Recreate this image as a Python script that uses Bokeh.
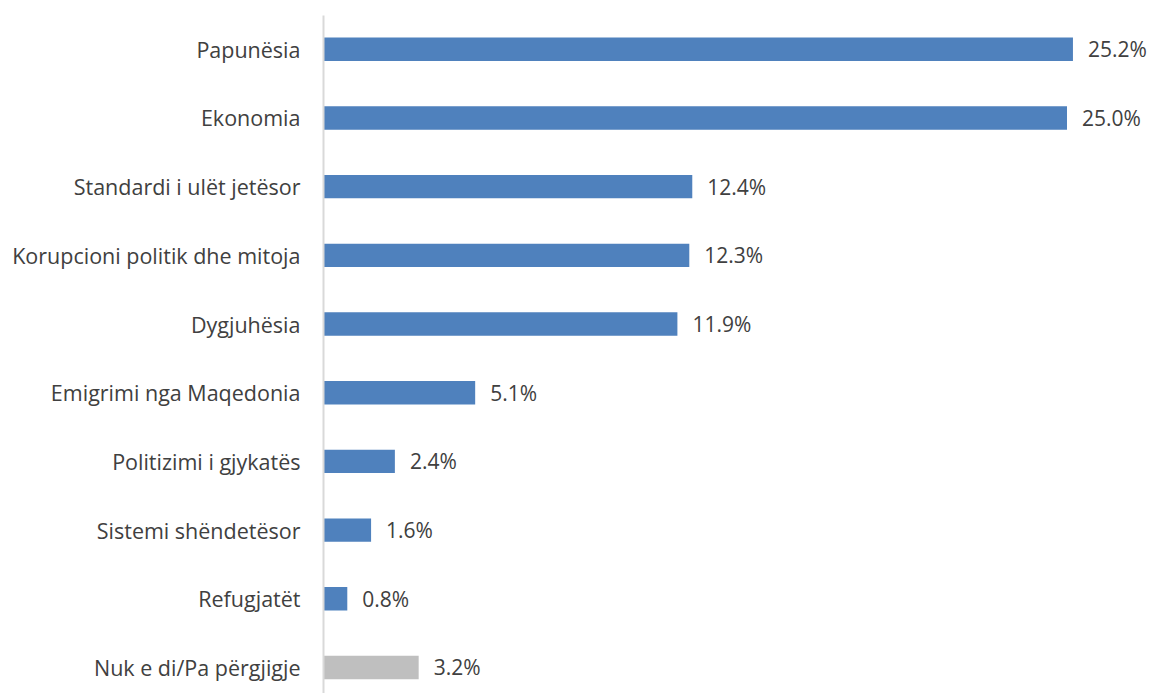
from bokeh.plotting import figure
from bokeh.models import Range1d, FixedTicker, ColumnDataSource
from bokeh.core.properties import value
from bokeh.embed import file_html
from bokeh.resources import INLINE

categories = ["Papunësia", "Ekonomia", "Standardi i ulët jetësor",
              "Korupcioni politik dhe mitoja", "Dygjuhësia",
              "Emigrimi nga Maqedonia", "Politizimi i gjykatës",
              "Sistemi shëndetësor", "Refugjatët", "Nuk e di/Pa përgjigje"]
values = [25.2, 25.0, 12.4, 12.3, 11.9, 5.1, 2.4, 1.6, 0.8, 3.2]
colors = ["#4F81BD"] * 9 + ["#BFBFBF"]
labels = ["%.1f%%" % v for v in values]

idx = list(range(len(categories)))
src = ColumnDataSource(dict(y=idx, v=values, c=colors, t=labels))

FONT = "Open Sans"
W, H = 1149, 693
LEFT = 323
p = figure(width=W, height=H, output_backend="svg", toolbar_location=None,
           x_range=Range1d(0, (W - LEFT) / 29.74),
           y_range=Range1d(9.379, -0.492),
           min_border_left=LEFT, min_border_right=0,
           min_border_top=15, min_border_bottom=0)
p.outline_line_color = None
p.background_fill_color = "white"
p.border_fill_color = "white"
p.xgrid.visible = False
p.ygrid.visible = False
p.xaxis.visible = False

p.hbar(y="y", right="v", left=0, height=0.34, fill_color="c", line_color=None, source=src)
p.text(x="v", y="y", text="t", x_offset=15, text_baseline="middle", text_align="left",
       text_font=value(FONT), text_font_size="21px", text_color="#404040", source=src)

ya = p.yaxis[0]
ya.ticker = FixedTicker(ticks=idx)
ya.major_label_overrides = {i: c for i, c in zip(idx, categories)}
ya.major_tick_line_color = None
ya.major_tick_out = 0
ya.major_tick_in = 0
ya.minor_tick_line_color = None
ya.axis_line_color = "#D9D9D9"
ya.axis_line_width = 2
ya.major_label_standoff = 23
ya.major_label_text_font = FONT
ya.major_label_text_font_size = "21.5px"
ya.major_label_text_color = "#404040"

open("out.html", "w").write(file_html(p, INLINE))
